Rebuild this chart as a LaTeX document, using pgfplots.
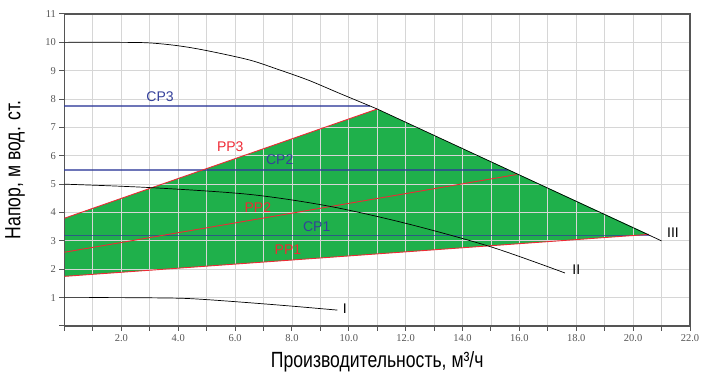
\documentclass[border=0pt]{standalone}
\usepackage{fontspec}
\setmainfont{Liberation Sans}
\newfontfamily\narrowfont[FakeStretch=0.8]{Liberation Sans}
\newfontfamily\tickfont{Liberation Serif}
\usepackage{pgfplots}
\pgfplotsset{compat=1.18}
\definecolor{gfill}{HTML}{1FB04B}
\definecolor{gridc}{HTML}{D6D6D6}
\definecolor{axc}{HTML}{555555}
\definecolor{tickc}{HTML}{555555}
\definecolor{redl}{HTML}{EE2A35}
\definecolor{bluel}{HTML}{2F3A9A}
\definecolor{bluet}{HTML}{34409A}
\begin{document}
\begin{tikzpicture}
\begin{axis}[
  set layers,
  scale only axis, width=625.5pt, height=312pt,
  xmin=0, xmax=22, ymin=0, ymax=11,
  xtick={0,1,...,22},
  xticklabels={,,2.0,,4.0,,6.0,,8.0,,10.0,,12.0,,14.0,,16.0,,18.0,,20.0,,22.0},
  ytick={0,1,...,11},
  yticklabels={,1,2,3,4,5,6,7,8,9,10,11},
  xtick pos=lower, ytick pos=left,
  grid=major, grid style={draw=gridc, line width=0.9pt},
  axis line style={draw=axc, line width=1.2pt},
  tick style={draw=axc, line width=1pt},
  tick align=outside, major tick length=5pt,
  ticklabel style={font=\tickfont\fontsize{10.5}{12}\selectfont, text=tickc},
  /pgf/number format/assume math mode=true,
  xlabel={Производительность, м³/ч},
  ylabel={Напор, м вод. ст.},
  label style={font=\narrowfont\fontsize{22}{24}\selectfont},
  xlabel style={at={(axis description cs:0.5,-0.1154)}, anchor=center},
  ylabel style={at={(axis description cs:-0.0791,0.5)}, anchor=center},
  clip=false,
]
% green working area
\addplot[fill=gfill, draw=none, on layer=axis background] coordinates {
  (0,3.8) (11,7.65) (20.55,3.23) (0,1.75) (0,3.8)};
% CP lines
\addplot[bluel, opacity=0.7, line width=1.4pt] coordinates {(0,7.75) (10.76,7.75)};
\addplot[bluel, opacity=0.7, line width=1.4pt] coordinates {(0,5.5) (15.6,5.5)};
\addplot[bluel, opacity=0.7, line width=1.4pt] coordinates {(0,3.2) (20.6,3.2)};
% PP lines
\addplot[redl, line width=0.9pt] coordinates {(0,3.8) (11,7.65)};
\addplot[redl, line width=0.9pt] coordinates {(0,2.6) (15.9,5.34)};
\addplot[redl, line width=0.9pt] coordinates {(0,1.75) (20.55,3.23)};
% pump curves
\addplot[black, line width=0.7pt, smooth] coordinates {
  (0,1.0) (2,1.0) (4,0.98) (5,0.93) (6.5,0.82) (8,0.7) (9.6,0.56)};
\addplot[black, line width=0.7pt, smooth] coordinates {
  (0,5.0) (3,4.88) (6.5,4.64) (9.27,4.23) (12,3.62) (15,2.79) (17.6,1.87)};
\addplot[black, line width=0.7pt, smooth] coordinates {
  (0,10.0) (2,10.0) (3,9.98) (4,9.88) (5,9.71) (6.5,9.38) (7.5,9.05) (8.57,8.67) (9.68,8.2) (11,7.65)};
\addplot[black, line width=0.7pt] coordinates {(11,7.65) (21,3.0)};
% labels
\node[text=bluet, font=\fontsize{14}{16}\selectfont] at (axis cs:3.36,8.07) {CP3};
\node[text=redl, font=\fontsize{14}{16}\selectfont] at (axis cs:5.83,6.31) {PP3};
\node[text=bluet, font=\fontsize{14}{16}\selectfont] at (axis cs:7.57,5.85) {CP2};
\node[text=redl, font=\fontsize{14}{16}\selectfont] at (axis cs:6.8,4.16) {PP2};
\node[text=bluet, font=\fontsize{14}{16}\selectfont] at (axis cs:8.87,3.49) {CP1};
\node[text=redl, font=\fontsize{14}{16}\selectfont] at (axis cs:7.86,2.68) {PP1};
\node[font=\fontsize{14}{16}\selectfont] at (axis cs:9.86,0.6) {I};
\node[font=\fontsize{14}{16}\selectfont] at (axis cs:18.0,1.97) {II};
\node[font=\fontsize{14}{16}\selectfont] at (axis cs:21.4,3.28) {III};
\end{axis}
\pgfresetboundingbox
\path[use as bounding box] ([shift={(-64.5pt,-50pt)}]current axis.south west) rectangle ([shift={(14pt,14pt)}]current axis.north east);
\end{tikzpicture}
\end{document}
